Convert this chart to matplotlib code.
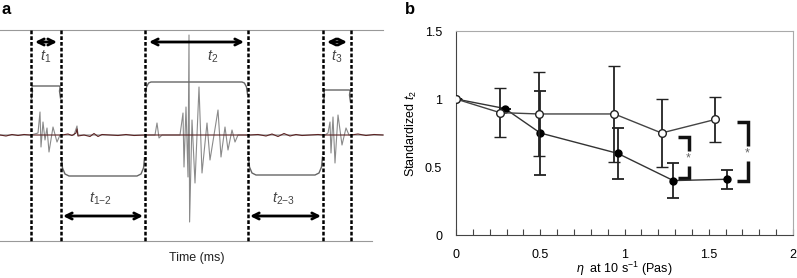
import matplotlib.pyplot as plt

plt.rcParams['font.family'] = ['Liberation Sans', 'DejaVu Sans']
plt.rcParams['mathtext.fontset'] = 'custom'
plt.rcParams['mathtext.it'] = 'Liberation Sans:italic'
plt.rcParams['mathtext.rm'] = 'Liberation Sans'

# ---- panel a: schematic trace (time / amplitude in drawing units) ----
trace_t = [0, 31, 38, 40, 41, 43, 45, 47, 49, 53, 57, 60, 74, 77, 78, 150, 155, 157,
           159, 162, 180, 183, 184, 186, 188, 189, 189.6, 192, 195, 199, 202, 207, 210,
           218, 221, 225, 228, 232, 235, 238, 325, 328, 330, 331, 333, 335, 338, 342,
           346, 349, 383]
trace_amp = [135, 135, 133, 112, 147, 122, 140, 128, 152, 127, 142, 135, 135, 126, 135,
             135, 135, 123, 138, 135, 135, 113, 167, 107, 177, 35, 222, 120, 183, 87,
             173, 123, 160, 110, 157, 127, 150, 130, 142, 135, 135, 133, 122, 153, 117,
             163, 115, 145, 128, 135, 135]
noise_t = [0, 6, 12, 18, 24, 30, 62, 68, 72, 76, 77, 78, 84, 90, 94, 98, 102, 110, 118,
           126, 134, 145, 250, 258, 266, 272, 278, 284, 290, 296, 302, 310, 318, 323,
           351, 358, 366, 374, 383]
noise_amp = [135, 136, 134.5, 135.5, 134.5, 135, 135, 134, 135.5, 133, 129, 136, 135,
             136.5, 133.5, 136.5, 134.5, 135, 135.5, 134.5, 135.5, 135, 135, 134.5, 136,
             134, 136.5, 133.5, 136, 134.5, 135.5, 135, 134.5, 135, 135, 134, 135.5,
             134.5, 135]
events = [31, 61, 145, 248, 323, 351]
phase_labels = ['$t_1$', '$t_2$', '$t_3$']
phase_levels = [86, 82, 90]
gap_labels = ['$t_{1\\mathrm{-}2}$', '$t_{2\\mathrm{-}3}$']
gap_levels = [176, 175]

# ---- panel b ----
eta_open = [0, 0.26, 0.49, 0.94, 1.22, 1.54]
t2_open = [1.0, 0.90, 0.89, 0.89, 0.75, 0.85]
err_open = [0, 0.18, 0.31, 0.35, 0.25, 0.165]
eta_fill = [0, 0.29, 0.50, 0.96, 1.29, 1.61]
t2_fill = [1.0, 0.93, 0.75, 0.60, 0.40, 0.41]
err_fill = [0, 0, 0.31, 0.19, 0.13, 0.07]
# significance brackets: x of bar, top, bottom, star y
sig_x = [1.38, 1.73]
sig_top = [0.72, 0.83]
sig_bot = [0.42, 0.40]
sig_star = [0.56, 0.60]

fig = plt.figure(figsize=(7.97, 2.78), dpi=100)

# panel a
axa = fig.add_axes([0, 0, 400 / 797, 1])
axa.set_xlim(0, 400)
axa.set_ylim(278, 0)
axa.axis('off')

axa.plot([0, 383], [30, 30], color='#999999', lw=0.8)
axa.plot([0, 372], [241, 241], color='#999999', lw=0.8)

axa.plot(trace_t, trace_amp, color='#8a8a8a', lw=0.8, zorder=2)
axa.plot(noise_t, noise_amp, color='#5c2424', lw=0.8, zorder=3)

axa.vlines(events, 30, 241, colors='k', lw=1.8, linestyles=(0, (1.5, 0.8)), zorder=4)

arrow = dict(arrowstyle='<->', lw=2, color='k', mutation_scale=11, shrinkA=0, shrinkB=0)

# upper pulses (t1, t2, t3)
for i, lab in enumerate(phase_labels):
    a, b = events[2 * i], events[2 * i + 1]
    lv = phase_levels[i]
    r = 6 if b - a > 50 else 1.5
    xs = [a + 0.5, a + 1.5, a + r * 0.6, a + r, b - r, b - r * 0.6, b - 1.5, b - 0.5]
    ys = [lv + 12, lv + 5, lv + 1, lv, lv, lv + 1, lv + 5, lv + 12]
    axa.plot(xs, ys, color='#666666', lw=1.0, zorder=3)
    axa.annotate('', xy=(b - 4, 42), xytext=(a + 4, 42), arrowprops=arrow)
    xm = (a + b) / 2 if b - a < 50 else a + 0.66 * (b - a)
    axa.text(xm, 57, lab, fontsize=10.5, color='#444444', ha='center', va='center')

# lower pulses (t1-2, t2-3)
for i, lab in enumerate(gap_labels):
    a, b = events[2 * i + 1], events[2 * i + 2]
    lv = gap_levels[i]
    xs = [a + 0.5, a + 1.5, a + 4, a + 8, b - 8, b - 4, b - 1.5, b - 0.5]
    ys = [lv - 18, lv - 8, lv - 2, lv, lv, lv - 2, lv - 8, lv - 18]
    axa.plot(xs, ys, color='#666666', lw=1.0, zorder=3)
    axa.annotate('', xy=(b - 2, 216), xytext=(a + 2, 216), arrowprops=arrow)
    axa.text(a + 0.47 * (b - a), 199, lab, fontsize=10.5, color='#444444',
             ha='center', va='center')

axa.text(197, 258, 'Time (ms)', fontsize=9, ha='center', va='center', color='#222222')
fig.text(2 / 797, 1 - 10 / 278, 'a', fontsize=12, fontweight='bold', va='center')

# panel b
axb = fig.add_axes([456 / 797, 43 / 278, 337 / 797, 204 / 278])
axb.errorbar(eta_fill, t2_fill, yerr=err_fill, fmt='-o', color='#333333', lw=1,
             mfc='k', mec='k', ms=5, ecolor='#222222', elinewidth=1.3,
             capsize=4.5, capthick=1.3, zorder=2)
axb.errorbar(eta_open, t2_open, yerr=err_open, fmt='-o', color='#444444', lw=1,
             mfc='white', mec='#222222', mew=1, ms=5.5, ecolor='#222222',
             elinewidth=1.3, capsize=4.5, capthick=1.3, zorder=3)

for x, top, bot, sy in zip(sig_x, sig_top, sig_bot, sig_star):
    axb.plot([x - 0.06, x, x], [top, top, sy + 0.055], color='#111111', lw=2.5,
             solid_capstyle='butt', solid_joinstyle='miter')
    axb.plot([x, x, x - 0.06], [sy - 0.055, bot, bot], color='#111111', lw=2.5,
             solid_capstyle='butt', solid_joinstyle='miter')
    axb.text(x, sy, '*', fontsize=9, color='#666666', ha='center', va='center')

axb.set_xlim(0, 2)
axb.set_ylim(0, 1.5)
axb.set_xticks([0, 0.5, 1, 1.5, 2])
axb.set_xticklabels(['0', '0.5', '1', '1.5', '2'])
axb.set_xticks([i / 10 for i in range(21)], minor=True)
axb.set_yticks([0, 0.5, 1, 1.5])
axb.set_yticklabels(['0', '0.5', '1', '1.5'])
axb.tick_params(axis='x', which='both', direction='in', length=4, width=0.8,
                color='#444444', labelsize=9, pad=10)
axb.tick_params(axis='y', length=0, labelsize=9, pad=10)
for s in ['left', 'bottom']:
    axb.spines[s].set_color('#444444')
for s in ['top', 'right']:
    axb.spines[s].set_color('#aaaaaa')
axb.set_xlabel(r'$\eta$  at 10 s$^{-1}$ (Pas)', fontsize=9, labelpad=-1)
axb.set_ylabel('Standardized $t_2$', fontsize=9, labelpad=4)
fig.text(405 / 797, 1 - 10 / 278, 'b', fontsize=12, fontweight='bold', va='center')

fig.savefig('out.png', dpi=100)
